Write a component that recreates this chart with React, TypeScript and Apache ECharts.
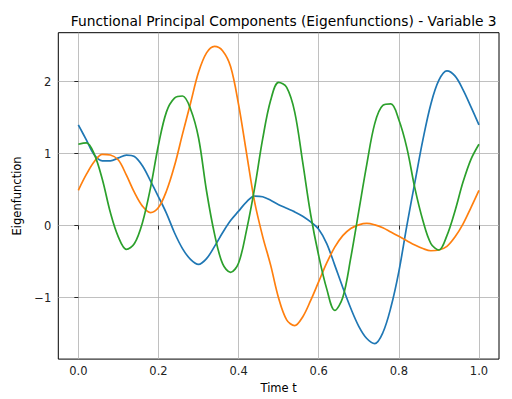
import React, { useEffect, useRef } from "react";
import * as echarts from "echarts";

const titleText = "Functional Principal Components (Eigenfunctions) - Variable 3";
const xName = "Time t";
const yName = "Eigenfunction";
const xTicks = [0, 0.2, 0.4, 0.6, 0.8, 1.0];
const yTicks = [-1, 0, 1, 2];

// sample times (read every 0.02 along t)
const tSamples = [
  0, 0.02, 0.04, 0.06, 0.08, 0.1, 0.12, 0.14, 0.16, 0.18,
  0.2, 0.22, 0.24, 0.26, 0.28, 0.3, 0.32, 0.34, 0.36, 0.38,
  0.4, 0.42, 0.44, 0.46, 0.48, 0.5, 0.52, 0.54, 0.56, 0.58,
  0.6, 0.62, 0.64, 0.66, 0.68, 0.7, 0.72, 0.74, 0.76, 0.78,
  0.8, 0.82, 0.84, 0.86, 0.88, 0.9, 0.92, 0.94, 0.96, 0.98, 1.0,
];

const pc1 = [
  1.40, 1.19, 0.98, 0.90, 0.90, 0.94, 0.98, 0.96, 0.83, 0.62,
  0.40, 0.17, -0.10, -0.32, -0.47, -0.54, -0.46, -0.29, -0.10, 0.07,
  0.20, 0.33, 0.41, 0.40, 0.35, 0.29, 0.24, 0.19, 0.13, 0.05,
  -0.05, -0.25, -0.55, -0.86, -1.15, -1.40, -1.57, -1.64, -1.49, -1.14,
  -0.64, 0.00, 0.60, 1.19, 1.69, 2.02, 2.15, 2.08, 1.89, 1.65, 1.40,
];

const pc2 = [
  0.49, 0.71, 0.89, 0.99, 0.98, 0.91, 0.70, 0.46, 0.27, 0.18,
  0.25, 0.48, 0.83, 1.27, 1.70, 2.13, 2.40, 2.49, 2.43, 2.21,
  1.68, 1.00, 0.33, -0.15, -0.55, -1.01, -1.31, -1.39, -1.27, -1.04,
  -0.78, -0.52, -0.30, -0.14, -0.04, 0.01, 0.03, 0.01, -0.03, -0.09,
  -0.15, -0.21, -0.27, -0.32, -0.35, -0.34, -0.29, -0.16, 0.02, 0.25, 0.49,
];

const pc3 = [
  1.13, 1.15, 0.99, 0.64, 0.18, -0.16, -0.33, -0.25, 0.04, 0.52,
  1.12, 1.58, 1.77, 1.80, 1.62, 1.22, 0.48, -0.12, -0.53, -0.65,
  -0.52, -0.06, 0.52, 1.20, 1.74, 1.99, 1.92, 1.58, 0.88, 0.15,
  -0.42, -0.88, -1.18, -1.00, -0.45, 0.20, 0.85, 1.42, 1.67, 1.69,
  1.47, 1.08, 0.52, 0.07, -0.25, -0.34, -0.14, 0.20, 0.60, 0.92, 1.13,
];

const colors = ["#1f77b4", "#ff7f0e", "#2ca02c"];
const FONT = "DejaVu Sans";

function zip(t: number[], v: number[]) {
  return t.map((x, i) => [x, v[i]]);
}

export default function App() {
  const ref = useRef<HTMLDivElement>(null);
  useEffect(() => {
    if (!ref.current) return;
    const chart = echarts.init(ref.current, null, { renderer: "svg" });
    const seriesData = [zip(tSamples, pc1), zip(tSamples, pc2), zip(tSamples, pc3)];
    chart.setOption({
      animation: false,
      backgroundColor: "#fff",
      title: {
        text: titleText,
        left: 278.7,
        top: 9,
        textAlign: "center",
        textStyle: { fontFamily: FONT, fontSize: 13.8, fontWeight: "normal", color: "#000" },
      },
      grid: {
        left: 58.3,
        right: 13,
        top: 32.7,
        bottom: 39,
        show: true,
        borderColor: "#000",
        borderWidth: 1,
        backgroundColor: "transparent",
      },
      xAxis: {
        type: "value",
        min: -0.05,
        max: 1.05,
        name: xName,
        nameLocation: "middle",
        nameGap: 22,
        nameTextStyle: { fontFamily: FONT, fontSize: 11.5, color: "#000" },
        axisLine: { show: false },
        axisTick: { show: true, length: 4, customValues: xTicks, lineStyle: { color: "#000", width: 0.8 } },
        axisLabel: {
          customValues: xTicks,
          formatter: (v: number) => v.toFixed(1),
          fontFamily: FONT,
          fontSize: 11.5,
          color: "#222",
          margin: 6,
        },
        splitLine: { show: true, lineStyle: { color: "#b0b0b0", width: 0.8 } },
      },
      yAxis: {
        type: "value",
        min: -1.856,
        max: 2.68,
        name: yName,
        nameLocation: "middle",
        nameGap: 27,
        nameTextStyle: { fontFamily: FONT, fontSize: 11.5, color: "#000" },
        axisLine: { show: false },
        axisTick: { show: true, length: 4, customValues: yTicks, lineStyle: { color: "#000", width: 0.8 } },
        axisLabel: {
          customValues: yTicks,
          formatter: (v: number) => (v < 0 ? "\u2212" + Math.abs(v) : String(v)),
          fontFamily: FONT,
          fontSize: 11.5,
          color: "#222",
          margin: 7,
        },
        splitLine: { show: true, lineStyle: { color: "#b0b0b0", width: 0.8 } },
      },
      series: seriesData.map((d, i) => ({
        type: "line",
        data: d,
        smooth: 0.35,
        showSymbol: false,
        lineStyle: { color: colors[i], width: 1.7 },
        itemStyle: { color: colors[i] },
        z: 2 + i,
      })),
    });
    return () => chart.dispose();
  }, []);
  return (
    <div
      ref={ref}
      style={{ position: "fixed", left: 0, top: 0, width: 512, height: 399 }}
    />
  );
}
